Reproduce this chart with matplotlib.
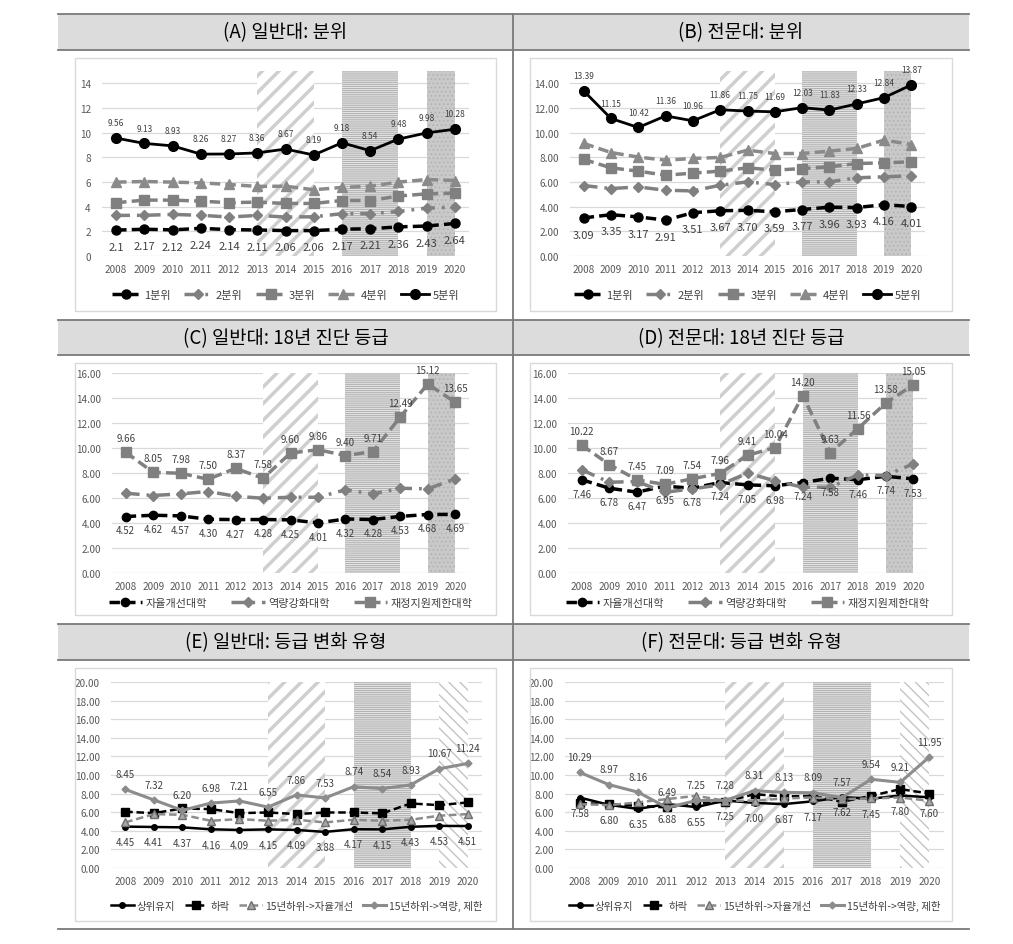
import numpy as np
import matplotlib.pyplot as plt
from matplotlib.lines import Line2D
from matplotlib.patches import Rectangle

plt.rcParams["font.family"] = ["Noto Sans CJK KR", "DejaVu Sans"]
plt.rcParams["hatch.linewidth"] = 1.5

# Data

years = ["2008", "2009", "2010", "2011", "2012", "2013", "2014",
         "2015", "2016", "2017", "2018", "2019", "2020"]

quint_names = ["1분위", "2분위", "3분위", "4분위", "5분위"]
grade_names = ["자율개선대학", "역량강화대학", "재정지원제한대학"]
change_names = ["상위유지", "하락", "15년하위->자율개선", "15년하위->역량, 제한"]

# (A) general universities, quintiles
a_q1 = [2.1, 2.17, 2.12, 2.24, 2.14, 2.11, 2.06, 2.06, 2.17, 2.21, 2.36, 2.43, 2.64]
a_q2 = [3.29, 3.30, 3.37, 3.30, 3.16, 3.29, 3.16, 3.18, 3.43, 3.43, 3.61, 3.88, 3.97]
a_q3 = [4.32, 4.53, 4.53, 4.45, 4.32, 4.37, 4.26, 4.26, 4.50, 4.50, 4.86, 5.04, 5.10]
a_q4 = [5.99, 6.04, 5.99, 5.93, 5.80, 5.64, 5.66, 5.37, 5.56, 5.66, 5.99, 6.20, 6.12]
a_q5 = [9.56, 9.13, 8.93, 8.26, 8.27, 8.36, 8.67, 8.19, 9.18, 8.54, 9.48, 9.98, 10.28]

# (B) junior colleges, quintiles
b_q1 = [3.09, 3.35, 3.17, 2.91, 3.51, 3.67, 3.70, 3.59, 3.77, 3.96, 3.93, 4.16, 4.01]
b_q2 = [5.71, 5.47, 5.60, 5.33, 5.28, 5.74, 6.01, 5.79, 6.01, 6.01, 6.34, 6.42, 6.50]
b_q3 = [7.83, 7.15, 6.88, 6.55, 6.72, 6.88, 7.15, 6.96, 7.09, 7.23, 7.50, 7.55, 7.64]
b_q4 = [9.13, 8.39, 8.02, 7.77, 7.91, 7.99, 8.58, 8.31, 8.31, 8.50, 8.72, 9.40, 9.04]
b_q5 = [13.39, 11.15, 10.42, 11.36, 10.96, 11.86, 11.75, 11.69, 12.03, 11.83, 12.33, 12.84, 13.87]

# (C) general universities, 2018 diagnosis grade
c_auto = [4.52, 4.62, 4.57, 4.30, 4.27, 4.28, 4.25, 4.01, 4.32, 4.28, 4.53, 4.68, 4.69]
c_capa = [6.38, 6.20, 6.33, 6.52, 6.14, 5.98, 6.06, 6.06, 6.65, 6.33, 6.78, 6.73, 7.53]
c_limit = [9.66, 8.05, 7.98, 7.50, 8.37, 7.58, 9.60, 9.86, 9.40, 9.71, 12.49, 15.12, 13.65]

# (D) junior colleges, 2018 diagnosis grade
d_auto = [7.46, 6.78, 6.47, 6.95, 6.78, 7.24, 7.05, 6.98, 7.24, 7.58, 7.46, 7.74, 7.53]
d_capa = [8.25, 7.26, 7.32, 6.46, 6.73, 7.05, 7.99, 7.37, 6.86, 6.86, 7.85, 7.80, 8.73]
d_limit = [10.22, 8.67, 7.45, 7.09, 7.54, 7.96, 9.41, 10.04, 14.20, 9.63, 11.56, 13.58, 15.05]

# (E) general universities, grade change type
e_keep = [4.45, 4.41, 4.37, 4.16, 4.09, 4.15, 4.09, 3.88, 4.17, 4.15, 4.43, 4.53, 4.51]
e_down = [6.05, 5.90, 6.40, 6.33, 5.90, 5.97, 5.80, 5.97, 5.97, 5.87, 6.94, 6.76, 7.05]
e_up = [4.90, 5.80, 5.72, 5.08, 5.26, 5.08, 5.19, 4.90, 5.19, 5.08, 5.19, 5.62, 5.80]
e_low = [8.45, 7.32, 6.20, 6.98, 7.21, 6.55, 7.86, 7.53, 8.74, 8.54, 8.93, 10.67, 11.24]

# (F) junior colleges, grade change type
f_keep = [7.58, 6.80, 6.35, 6.88, 6.55, 7.25, 7.00, 6.87, 7.17, 7.62, 7.45, 7.80, 7.60]
f_down = [6.98, 6.87, 6.69, 6.51, 6.98, 7.12, 7.94, 7.69, 7.76, 7.12, 7.76, 8.48, 8.01]
f_up = [6.87, 6.76, 7.05, 7.41, 7.76, 7.23, 7.23, 7.48, 7.58, 7.41, 7.48, 7.58, 7.23]
f_low = [10.29, 8.97, 8.16, 6.49, 7.25, 7.28, 8.31, 8.13, 8.09, 7.57, 9.54, 9.21, 11.95]

band_periods = [("2013", "2015"), ("2016", "2018"), ("2019", "2020")]

# Styles

GRAY = "#808080"
DASH = (0, (3, 1.5))
DASHDOT = (0, (4, 2, 0.8, 2))

quint_styles = [
    dict(color="black", ls=DASH, lw=2.5, marker="o", ms=6.5),
    dict(color=GRAY, ls=DASHDOT, lw=2.5, marker="D", ms=5.5),
    dict(color=GRAY, ls=DASH, lw=2.5, marker="s", ms=6.5),
    dict(color="#8a8a8a", ls=DASH, lw=2.5, marker="^", ms=6.5),
    dict(color="black", ls="-", lw=2, marker="o", ms=7),
]
grade_styles = [
    dict(color="black", ls=DASH, lw=2.5, marker="o", ms=6),
    dict(color=GRAY, ls=DASHDOT, lw=2.5, marker="D", ms=5.5),
    dict(color=GRAY, ls=DASH, lw=2.5, marker="s", ms=6.5),
]
change_styles = [
    dict(color="black", ls="-", lw=1.8, marker="o", ms=4),
    dict(color="black", ls=DASH, lw=1.8, marker="s", ms=6),
    dict(color="#8c8c8c", ls=DASH, lw=1.8, marker="^", ms=6,
         mfc="#a6a6a6", mec="#6f6f6f"),
    dict(color="#8c8c8c", ls="-", lw=2.2, marker="D", ms=3.5),
]

W, H = 1013, 945
LABEL_COLOR = "#404040"
TICK_COLOR = "#595959"


def fbox(l, t, r, b):
    return [l / W, 1 - b / H, (r - l) / W, (b - t) / H]


def add_band(ax, x0, x1, kind):
    if kind == "diag":
        p = ax.axvspan(x0, x1, facecolor="white", edgecolor="#cfcfcf",
                       hatch="//", lw=0, zorder=1)
        lw = 2.5
    elif kind == "horiz":
        p = ax.axvspan(x0, x1, facecolor="#e6e6e6", edgecolor="#b3b3b3",
                       hatch="--------", lw=0, zorder=1)
        lw = 0.8
    elif kind == "dots":
        p = ax.axvspan(x0, x1, facecolor="#c9c9c9", edgecolor="#b0b0b0",
                       hatch="....", lw=0, zorder=1)
        lw = 0.6
    else:
        p = ax.axvspan(x0, x1, facecolor="white", edgecolor="#c4c4c4",
                       hatch="\\\\\\", lw=0, zorder=1)
        lw = 1.0
    if hasattr(p, "set_hatch_linewidth"):
        p.set_hatch_linewidth(lw)


def draw_panel(fig, spec):
    frame = spec["frame"]
    fig.add_artist(Rectangle((frame[0] / W, 1 - frame[3] / H),
                             (frame[2] - frame[0]) / W,
                             (frame[3] - frame[1]) / H,
                             transform=fig.transFigure, fill=False,
                             edgecolor="#d9d9d9", lw=1))
    ax = fig.add_axes(fbox(*spec["axes"]))
    x = np.arange(len(years))
    for (y0, y1), kind in zip(band_periods, spec["bands"]):
        add_band(ax, years.index(y0), years.index(y1), kind)
    handles = []
    for name, vals, st in zip(spec["names"], spec["series"], spec["styles"]):
        st = dict(st)
        mfc = st.pop("mfc", st["color"])
        mec = st.pop("mec", st["color"])
        h, = ax.plot(x, vals, label=name, mfc=mfc, mec=mec,
                     dash_capstyle="butt", zorder=3, **st)
        handles.append(h)
    fmt = spec["fmt"]
    for idx, dy, fs in spec["labels"]:
        for xi, v in zip(x, spec["series"][idx]):
            ax.annotate(format(v, fmt), (xi, v), xytext=(0, dy),
                        textcoords="offset points", ha="center",
                        va="center", fontsize=fs, color=LABEL_COLOR,
                        zorder=4)
    ax.set_xlim(-0.5, len(years) - 0.5)
    ax.set_ylim(0, spec["ytop"])
    ax.set_xticks(x, years)
    ax.set_yticks(spec["yticks"])
    ax.set_yticklabels([format(t, spec["yfmt"]) for t in spec["yticks"]])
    ax.tick_params(length=0, labelsize=7.2, labelcolor=TICK_COLOR)
    ax.tick_params(axis="y", pad=8)
    ax.tick_params(axis="x", pad=6)
    for spine in ax.spines.values():
        spine.set_visible(False)
    ax.set_axisbelow(True)
    ax.yaxis.grid(True, color="#d9d9d9", lw=0.9)
    leg = spec["legend"]
    ax.legend(handles=handles, loc="center",
              bbox_to_anchor=(0.5, leg["y"]),
              ncol=len(handles), frameon=False, fontsize=leg["fs"],
              handlelength=leg["hl"], handletextpad=0.3,
              columnspacing=leg["cs"], labelcolor="#404040")
    return ax


def main():
    fig = plt.figure(figsize=(W / 100, H / 100), dpi=100)

    # Table frame
    left, right, mid = 58, 969, 513
    headers = [(15, 51), (321, 356), (625, 661)]
    bottom = 930
    line_kw = dict(color="#7a7a7a", lw=1.3, transform=fig.transFigure)
    for t, b in headers:
        fig.add_artist(Rectangle((left / W, 1 - b / H), (right - left) / W,
                                 (b - t) / H, transform=fig.transFigure,
                                 facecolor="#dcdcdc", edgecolor="none"))
        for yy in (t, b):
            fig.add_artist(Line2D([left / W, right / W], [1 - yy / H] * 2,
                                  **line_kw))
    fig.add_artist(Line2D([left / W, right / W], [1 - bottom / H] * 2,
                          **line_kw))
    fig.add_artist(Line2D([mid / W, mid / W], [1 - 15 / H, 1 - bottom / H],
                          **line_kw))

    titles = [["(A) 일반대: 분위", "(B) 전문대: 분위"],
              ["(C) 일반대: 18년 진단 등급", "(D) 전문대: 18년 진단 등급"],
              ["(E) 일반대: 등급 변화 유형", "(F) 전문대: 등급 변화 유형"]]
    for (t, b), row in zip(headers, titles):
        for cx, title in zip(((left + mid) / 2, (mid + right) / 2), row):
            fig.text(cx / W, 1 - (t + b) / 2 / H, title, ha="center",
                     va="center", fontsize=13.5, weight="medium",
                     color="black")

    top_bands = ["diag", "horiz", "dots"]
    low_bands = ["diag", "horiz", "fine"]

    specs = [
        dict(frame=(75, 59, 496, 312), axes=(102, 72, 469, 257),
             names=quint_names, series=[a_q1, a_q2, a_q3, a_q4, a_q5],
             styles=quint_styles, labels=[(0, -12, 8), (4, 11, 6)],
             fmt="g", ytop=15, yticks=[0, 2, 4, 6, 8, 10, 12, 14], yfmt="d",
             bands=top_bands,
             legend=dict(y=-0.21, fs=8, hl=2.6, cs=1.2)),
        dict(frame=(530, 59, 952, 312), axes=(570, 72, 925, 257),
             names=quint_names, series=[b_q1, b_q2, b_q3, b_q4, b_q5],
             styles=quint_styles, labels=[(0, -12, 8), (4, 11, 6)],
             fmt=".2f", ytop=15, yticks=[0, 2, 4, 6, 8, 10, 12, 14],
             yfmt=".2f", bands=top_bands,
             legend=dict(y=-0.21, fs=8, hl=2.6, cs=1.2)),
        dict(frame=(75, 364, 496, 616), axes=(112, 374, 469, 574),
             names=grade_names, series=[c_auto, c_capa, c_limit],
             styles=grade_styles, labels=[(0, -10, 7), (2, 10, 7)],
             fmt=".2f", ytop=16, yticks=[0, 2, 4, 6, 8, 10, 12, 14, 16],
             yfmt=".2f", bands=top_bands,
             legend=dict(y=-0.15, fs=8, hl=3.0, cs=2.2)),
        dict(frame=(530, 364, 952, 616), axes=(568, 374, 927, 574),
             names=grade_names, series=[d_auto, d_capa, d_limit],
             styles=grade_styles, labels=[(0, -10, 7), (2, 10, 7)],
             fmt=".2f", ytop=16, yticks=[0, 2, 4, 6, 8, 10, 12, 14, 16],
             yfmt=".2f", bands=top_bands,
             legend=dict(y=-0.15, fs=8, hl=3.0, cs=2.2)),
        dict(frame=(75, 669, 496, 922), axes=(111, 683, 482, 869),
             names=change_names, series=[e_keep, e_down, e_up, e_low],
             styles=change_styles, labels=[(0, -11, 7), (3, 11, 7)],
             fmt=".2f", ytop=20,
             yticks=[0, 2, 4, 6, 8, 10, 12, 14, 16, 18, 20],
             yfmt=".2f", bands=low_bands,
             legend=dict(y=-0.2, fs=7.5, hl=2.2, cs=0.9)),
        dict(frame=(530, 669, 952, 922), axes=(565, 683, 944, 869),
             names=change_names, series=[f_keep, f_down, f_up, f_low],
             styles=change_styles, labels=[(0, -11, 7), (3, 11, 7)],
             fmt=".2f", ytop=20,
             yticks=[0, 2, 4, 6, 8, 10, 12, 14, 16, 18, 20],
             yfmt=".2f", bands=low_bands,
             legend=dict(y=-0.2, fs=7.5, hl=2.2, cs=0.9)),
    ]
    for spec in specs:
        draw_panel(fig, spec)

    fig.savefig("out.png", dpi=100, facecolor="white")
    plt.close(fig)


if __name__ == "__main__":
    main()
